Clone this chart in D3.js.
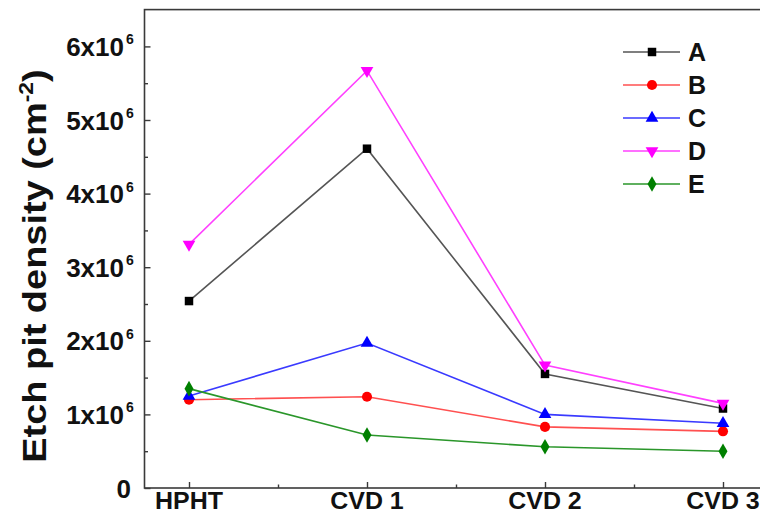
<!DOCTYPE html>
<html><head><meta charset="utf-8">
<script src="https://cdn.jsdelivr.net/npm/d3@7"></script>
<style>
html,body{margin:0;padding:0;background:#fff;}
svg{display:block;font-family:"Liberation Sans",Arial,sans-serif;}
</style></head>
<body><svg id="c" width="760" height="522"></svg>
<script>
const categories = ["HPHT", "CVD 1", "CVD 2", "CVD 3"];
const seriesNames = ["A", "B", "C", "D", "E"];
const valuesA = [2.54e6, 4.61e6, 1.55e6, 1.08e6];
const valuesB = [1.20e6, 1.24e6, 0.83e6, 0.77e6];
const valuesC = [1.25e6, 1.97e6, 1.00e6, 0.88e6];
const valuesD = [3.31e6, 5.67e6, 1.67e6, 1.15e6];
const valuesE = [1.35e6, 0.72e6, 0.56e6, 0.50e6];
const yTicks = [0, 1e6, 2e6, 3e6, 4e6, 5e6, 6e6];
const yMinorTicks = [0.5e6, 1.5e6, 2.5e6, 3.5e6, 4.5e6, 5.5e6];
const xMinorTicks = [0.5, 1.5, 2.5];

const series = [
  {name: "A", values: valuesA, color: "#000000", line: "#555555", shape: d3.symbolSquare},
  {name: "B", values: valuesB, color: "#ff0000", line: "#ff5050", shape: d3.symbolCircle},
  {name: "C", values: valuesC, color: "#0000ff", line: "#3a3aff", shape: d3.symbolTriangle},
  {name: "D", values: valuesD, color: "#ff00ff", line: "#ff40ff", shape: "down"},
  {name: "E", values: valuesE, color: "#008000", line: "#2a962a", shape: d3.symbolDiamond}
];

const svg = d3.select("#c");
const x = d3.scaleLinear().domain([-0.25, 3.25]).range([144.5, 767.5]);
const y = d3.scaleLinear().domain([0, 6.5e6]).range([488, 9.6]);

// frame
svg.append("rect").attr("x", x(-0.25)).attr("y", y(6.5e6))
  .attr("width", x(3.25) - x(-0.25)).attr("height", y(0) - y(6.5e6))
  .attr("fill", "none").attr("stroke", "#3a3a3a").attr("stroke-width", 1.6);

// y axis ticks (inward)
const yAxis = d3.axisRight(y).tickValues(yTicks).tickSize(6).tickFormat("");
const gy = svg.append("g").attr("transform", `translate(${x(-0.25)},0)`).call(yAxis);
gy.select(".domain").remove();
gy.selectAll("line").attr("stroke", "#3a3a3a").attr("stroke-width", 1.4);
const yAxisMinor = d3.axisRight(y).tickValues(yMinorTicks).tickSize(3.5).tickFormat("");
const gym = svg.append("g").attr("transform", `translate(${x(-0.25)},0)`).call(yAxisMinor);
gym.select(".domain").remove();
gym.selectAll("line").attr("stroke", "#3a3a3a").attr("stroke-width", 1.4);

// y tick labels
yTicks.forEach(v => {
  if (v === 0) {
    svg.append("text").attr("x", 131).attr("y", y(v) + 9.5)
      .attr("text-anchor", "end").attr("font-size", 26).attr("font-weight", "bold").attr("fill", "#111").text("0");
  } else {
    svg.append("text").attr("x", 124).attr("y", y(v) + 9.5)
      .attr("text-anchor", "end").attr("font-size", 26).attr("font-weight", "bold").attr("fill", "#111")
      .text((v / 1e6) + "x10");
    svg.append("text").attr("x", 126).attr("y", y(v) - 2)
      .attr("font-size", 14).attr("font-weight", "bold").attr("fill", "#111").text("6");
  }
});

// x axis ticks (inward)
const xAxis = d3.axisTop(x).tickValues([0, 1, 2, 3]).tickSize(6).tickFormat("");
const gx = svg.append("g").attr("transform", `translate(0,${y(0)})`).call(xAxis);
gx.select(".domain").remove();
gx.selectAll("line").attr("stroke", "#3a3a3a").attr("stroke-width", 1.4);
const xAxisMinor = d3.axisTop(x).tickValues(xMinorTicks).tickSize(3.5).tickFormat("");
const gxm = svg.append("g").attr("transform", `translate(0,${y(0)})`).call(xAxisMinor);
gxm.select(".domain").remove();
gxm.selectAll("line").attr("stroke", "#3a3a3a").attr("stroke-width", 1.4);

categories.forEach((c, i) => {
  svg.append("text").attr("x", x(i)).attr("y", 509).attr("text-anchor", "middle")
    .attr("font-size", 24).attr("font-weight", "bold").attr("fill", "#111")
    .attr("transform", `translate(${x(i)},0) scale(1.04,1) translate(${-x(i)},0)`).text(c);
});

// y title
const yt = svg.append("text").attr("transform", `translate(46,266) rotate(-90) scale(1.15,1)`)
  .attr("text-anchor", "middle").attr("font-size", 33).attr("font-weight", "bold").attr("fill", "#111");
yt.append("tspan").text("Etch pit density (cm");
yt.append("tspan").attr("dy", -13).attr("font-size", 20).text("-2");
yt.append("tspan").attr("dy", 13).text(")");

function sym(shape, size) {
  if (shape === "down") return d3.symbol(d3.symbolTriangle, size)();
  return d3.symbol(shape, size)();
}
function symSize(shape) {
  if (shape === d3.symbolSquare) return 72;
  if (shape === d3.symbolCircle) return 80;
  if (shape === d3.symbolDiamond) return 70;
  return 70;
}

const line = d3.line().x((d, i) => x(i)).y(d => y(d));
series.forEach(s => {
  svg.append("path").datum(s.values).attr("d", line).attr("fill", "none")
    .attr("stroke", s.line).attr("stroke-width", 1.6);
  s.values.forEach((v, i) => {
    svg.append("path").attr("d", sym(s.shape, symSize(s.shape)))
      .attr("transform", `translate(${x(i)},${y(v)})` + (s.shape === "down" ? " rotate(180)" : ""))
      .attr("fill", s.color);
  });
});

// legend
series.forEach((s, k) => {
  const ly = 52 + k * 33;
  svg.append("line").attr("x1", 623).attr("x2", 680).attr("y1", ly).attr("y2", ly)
    .attr("stroke", s.line).attr("stroke-width", 1.6);
  svg.append("path").attr("d", sym(s.shape, symSize(s.shape)))
    .attr("transform", `translate(652,${ly})` + (s.shape === "down" ? " rotate(180)" : ""))
    .attr("fill", s.color);
  svg.append("text").attr("x", 688).attr("y", ly + 9).attr("font-size", 25)
    .attr("font-weight", "bold").attr("fill", "#111").text(s.name);
});
</script></body></html>
